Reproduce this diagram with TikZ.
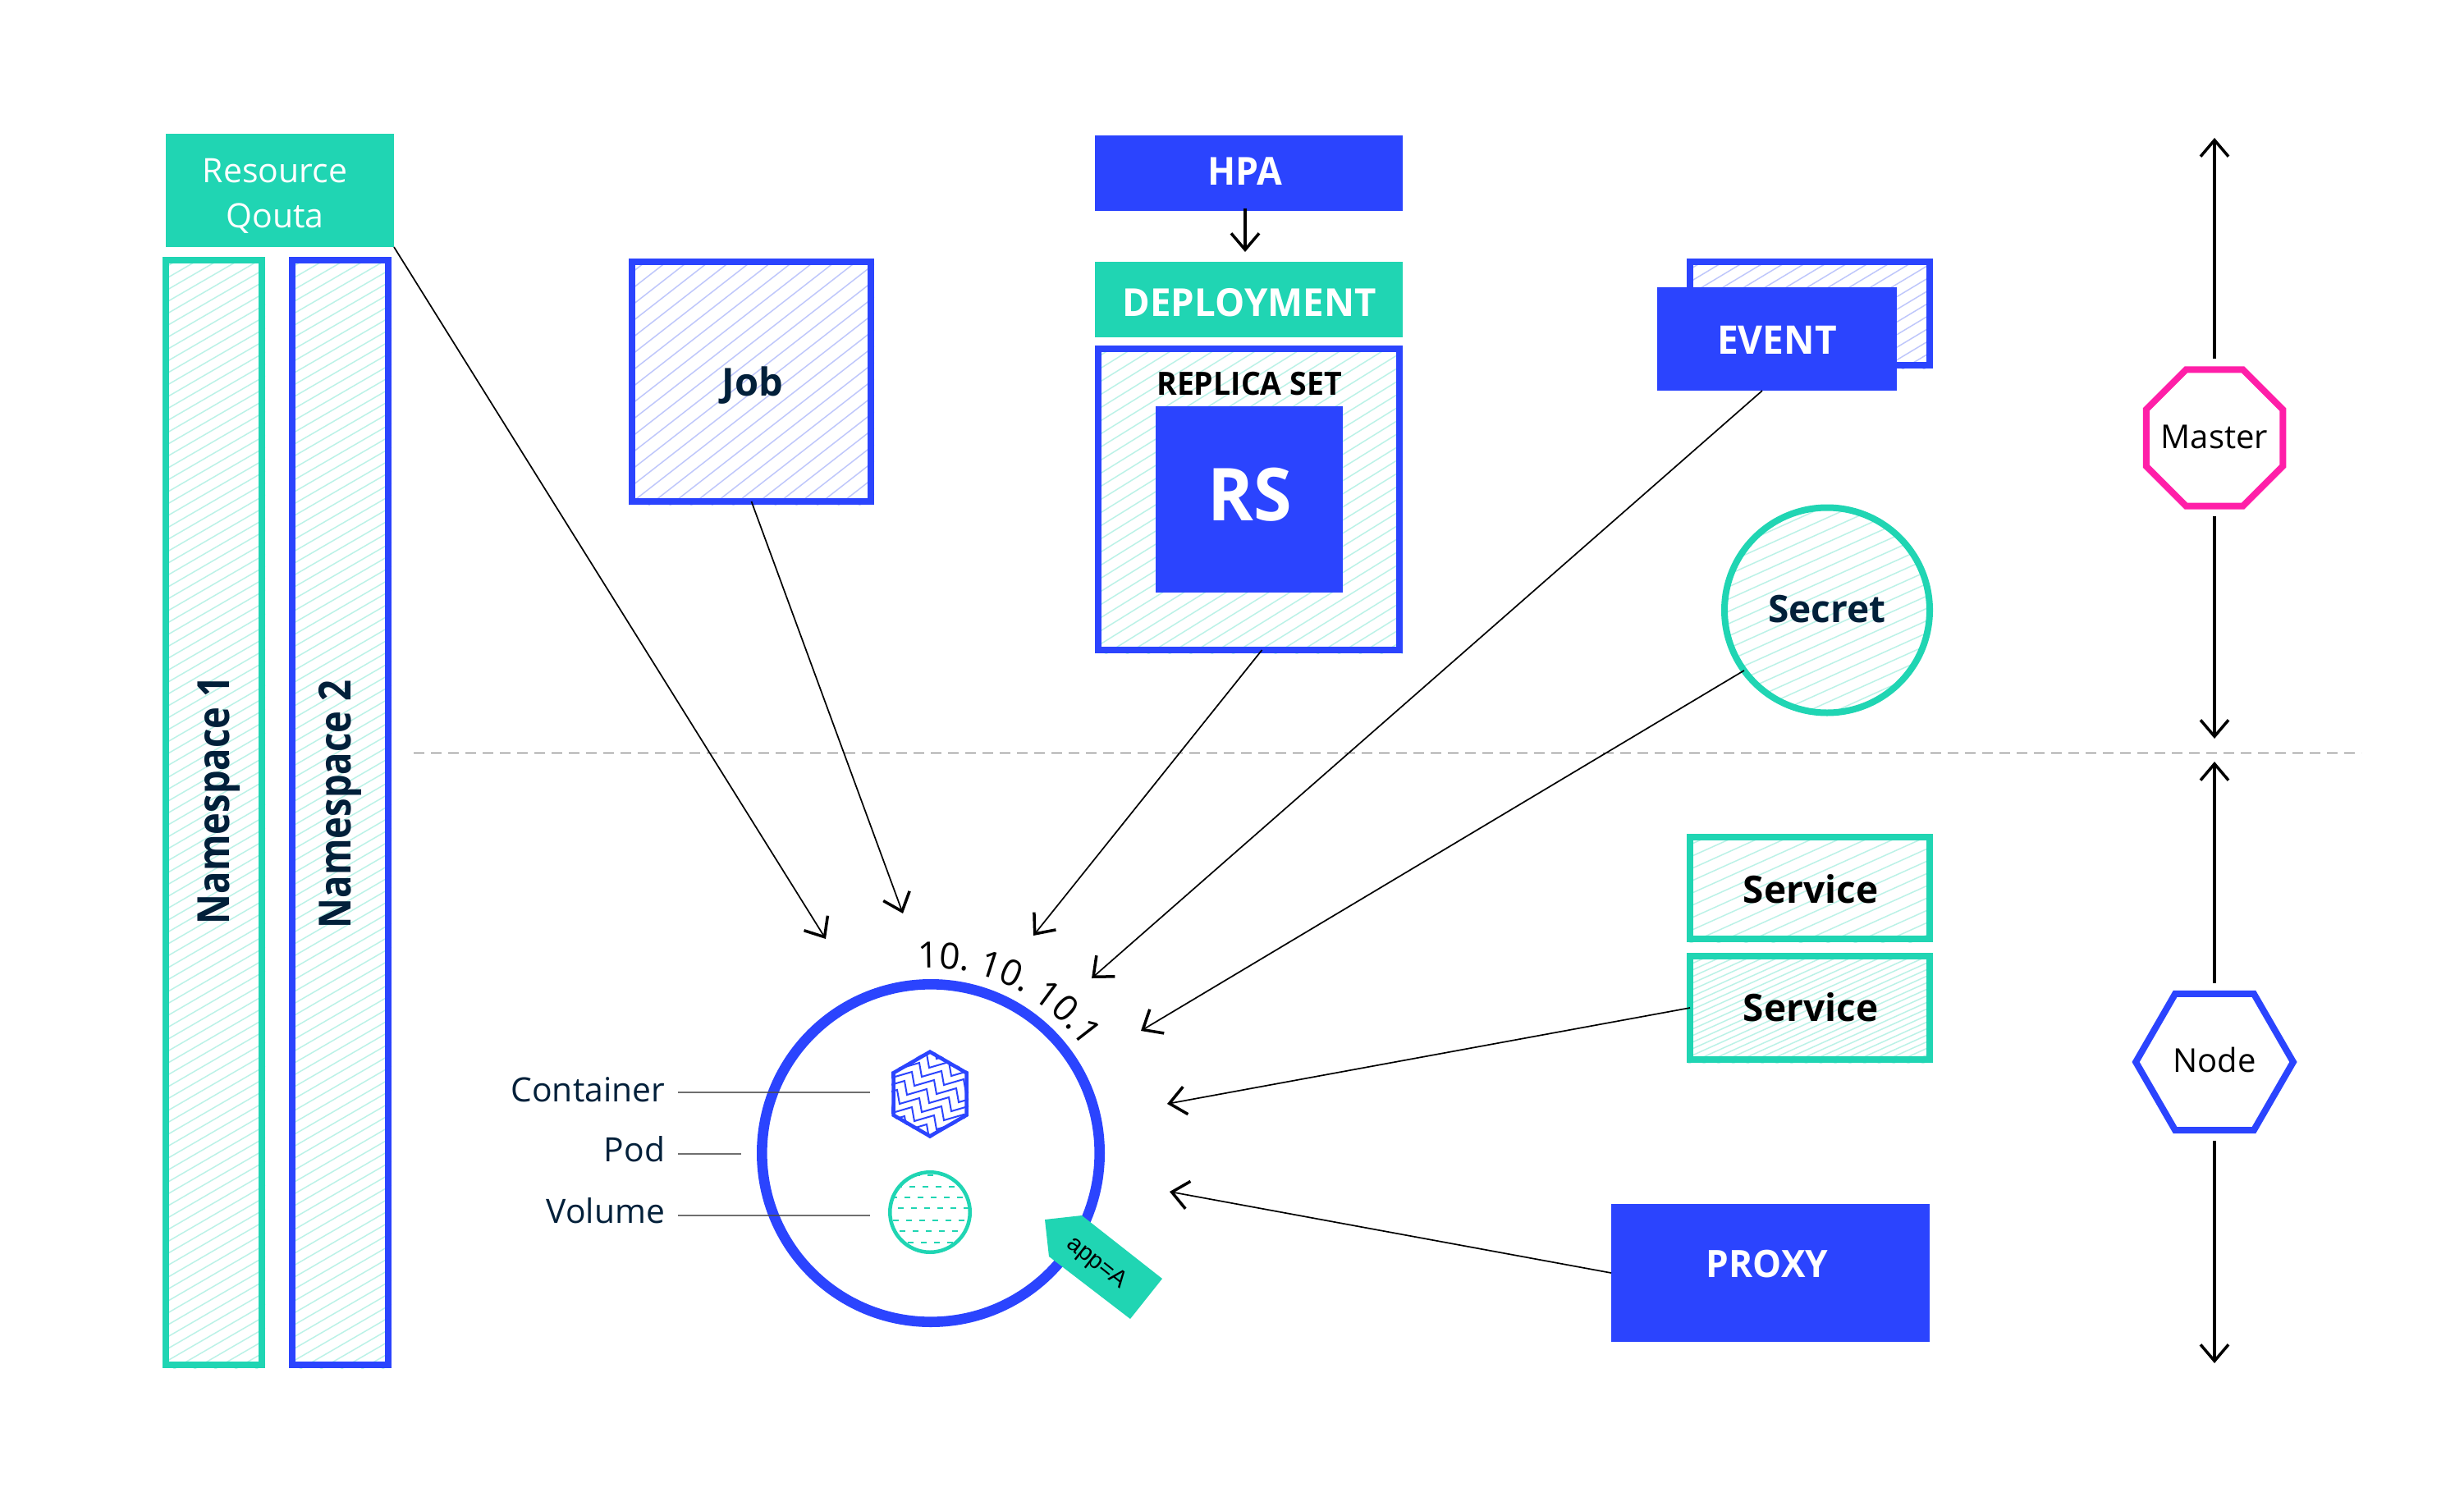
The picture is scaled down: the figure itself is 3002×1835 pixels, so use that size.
\documentclass[tikz,border=0pt]{standalone}
\usepackage{fontspec}
\usepackage{graphicx}
\usetikzlibrary{arrows.meta,shapes.geometric,decorations.text}
\setmainfont{Open Sans}
\newfontfamily\semi{Open Sans}[UprightFont={* Semibold},BoldFont={* Bold}]
\newfontfamily\liber{Liberation Sans}
\definecolor{teal}{HTML}{20D5B3}
\definecolor{kblue}{HTML}{2B44FE}
\definecolor{pinkk}{HTML}{FF1FA8}
\definecolor{navy}{HTML}{02203A}
\definecolor{lteal}{HTML}{BBF2E7}
\definecolor{lblue}{HTML}{BFC7FB}
\newcommand\fs[1]{\fontsize{#1}{#1}\selectfont}
\newcommand\sx[2]{\scalebox{#1}[1]{#2}}
% filled box: style, name, x0,y0,x1,y1
\newcommand\fbx[6]{\node[fbox,#1,minimum width={(#5-#3)*0.5pt},minimum height={(#6-#4)*0.5pt}] (#2) at ({(#3+#5)/2},{(#4+#6)/2}) {};}
% outlined box: outer edges given
\newcommand\obx[6]{\node[obox,#1,minimum width={(#5-#3)*0.5pt-4pt},minimum height={(#6-#4)*0.5pt-4pt}] (#2) at ({(#3+#5)/2},{(#4+#6)/2}) {};}
% hatching: clip path, x0,y0,x1,y1, colour, slope, spacing
\newcommand\hatchfill[8]{%
  \begin{scope}
    \clip #1;
    \pgfmathtruncatemacro\hn{((#5-#3)+#7*(#4-#2))/#8+1}
    \foreach \k in {0,...,\hn}{
      \draw[#6,line width=0.75pt] (#2,{#3+\k*#8}) -- (#4,{#3+\k*#8-#7*(#4-#2)});
    }
  \end{scope}}
\tikzset{
  x=0.5pt,y=-0.5pt,
  fbox/.style={rectangle,inner sep=0pt,outer sep=0pt},
  obox/.style={rectangle,draw,line width=4pt,inner sep=0pt,outer sep=0pt},
  lab/.style={anchor=base,inner sep=0pt,outer sep=0pt},
  link/.style={line width=0.85pt,-{Straight Barb[length=10pt,width=17pt,line width=1.75pt]}},
  axis/.style={line width=2pt,-{Straight Barb[length=10pt,width=17pt,line width=1.75pt]}},
  leader/.style={line width=1pt,black!70,opacity=0.8},
  poly/.style={regular polygon,draw,line width=4pt,inner sep=0pt,outer sep=0pt}
}
\begin{document}
\begin{tikzpicture}
\useasboundingbox (0,0) rectangle (3002,1835);
\fill[white] (0,0) rectangle (3002,1835);

% resource quota and namespaces
\fbx{fill=teal}{rq}{202}{163}{480}{301}
\node[lab,text=white,font=\fs{20.5}] (rqa) at (335,223) {Resource};
\node[lab,text=white,font=\fs{20.5}] (rqb) at (335,278) {Qouta};
\hatchfill{(198,313) rectangle (323,1667)}{198}{313}{323}{1667}{lteal}{0.58}{14.5}
\obx{draw=teal}{nsa}{198}{313}{323}{1667}
\node[lab,rotate=90,text=navy,font=\semi\bfseries\fs{27}] (nsal) at (279,975) {\sx{0.84}{Namespace 1}};
\hatchfill{(352,313) rectangle (477,1667)}{352}{313}{477}{1667}{lteal}{0.58}{14.5}
\obx{draw=kblue}{nsb}{352}{313}{477}{1667}
\node[lab,rotate=90,text=navy,font=\semi\bfseries\fs{27}] (nsbl) at (427,980) {\sx{0.84}{Namespace 2}};

% job
\hatchfill{(766,315) rectangle (1065,615)}{766}{315}{1065}{615}{lblue}{0.78}{20}
\obx{draw=kblue}{job}{766}{315}{1065}{615}
\node[lab,text=navy,font=\semi\bfseries\fs{23.5}] (jobl) at (917,482) {Job};

% hpa, deployment, replica set
\fbx{fill=kblue}{hpa}{1334}{165}{1709}{257}
\node[lab,text=white,font=\semi\bfseries\fs{23.5}] (hpal) at (1517,226) {\sx{0.95}{HPA}};
\fbx{fill=teal}{deploy}{1334}{319}{1709}{411}
\node[lab,text=white,font=\semi\bfseries\fs{23.5}] (deployl) at (1522,385) {\sx{0.97}{DEPLOYMENT}};
\hatchfill{(1334,421) rectangle (1709,796)}{1334}{421}{1709}{796}{lteal}{0.62}{16}
\obx{draw=kblue}{replica}{1334}{421}{1709}{796}
\node[lab,text=black,font=\semi\bfseries\fs{19.5}] (replical) at (1522,481) {\sx{0.96}{REPLICA SET}};
\fbx{fill=kblue}{rs}{1408}{495}{1636}{722}
\node[lab,text=white,font=\semi\bfseries\fs{44.5}] (rsl) at (1523,634) {\sx{0.95}{RS}};

% event
\hatchfill{(2055,315) rectangle (2355,449)}{2055}{315}{2355}{449}{lblue}{0.6}{15.4}
\obx{draw=kblue}{eventb}{2055}{315}{2355}{449}
\fbx{fill=kblue}{event}{2019}{350}{2311}{476}
\node[lab,text=white,font=\semi\bfseries\fs{24}] (eventl) at (2165,431) {\sx{0.96}{EVENT}};

% secret
\hatchfill{(2226,743.5) circle (62.5pt)}{2097}{614}{2355}{873}{lteal}{0.45}{15}
\node[circle,draw=teal,line width=4pt,minimum size=125pt,inner sep=0pt,outer sep=0pt] (secret) at (2226,743.5) {};
\node[lab,text=navy,font=\semi\bfseries\fs{23}] (secretl) at (2226,758) {Secret};

% services, proxy
\hatchfill{(2055,1016) rectangle (2355,1148)}{2055}{1016}{2355}{1148}{lteal}{0.45}{15}
\obx{draw=teal}{svca}{2055}{1016}{2355}{1148}
\node[lab,text=black,font=\semi\bfseries\fs{23}] (svcal) at (2206,1100) {Service};
\hatchfill{(2055,1161) rectangle (2355,1295)}{2055}{1161}{2355}{1295}{lteal}{0.45}{8}
\obx{draw=teal}{svcb}{2055}{1161}{2355}{1295}
\node[lab,text=black,font=\semi\bfseries\fs{23}] (svcbl) at (2206,1244) {Service};
\fbx{fill=kblue}{proxy}{1963}{1467}{2351}{1635}
\node[lab,text=white,font=\semi\bfseries\fs{23}] (proxyl) at (2153,1556) {\sx{0.96}{PROXY}};

% divider
\coordinate (dl) at (504,917);
\coordinate (dr) at (2877,917);
\draw[line width=0.5pt,black!60,dash pattern=on 6.5pt off 4pt] (dl) -- (dr);

% pod
\node[circle,draw=kblue,line width=6.3pt,minimum size=205.7pt,inner sep=0pt,outer sep=0pt] (pod) at (1134,1405) {};
% ip address
\path[decorate,decoration={text along path,text={|\fs{22}|10. 10. 10.1}}] (1118,1180) arc[start angle=94,end angle=15,radius=113pt];
% container
\begin{scope}
  \clip (1133,1279) -- (1180,1306) -- (1180,1360) -- (1133,1387) -- (1086,1360) -- (1086,1306) -- cycle;
  \foreach \k in {-3,...,11}{
    \draw[kblue,line width=1pt,line join=miter] ({1060-9*\k},{1260+11*\k})
      -- ++(24,-7) -- ++(3,17) -- ++(24,-7) -- ++(3,17) -- ++(24,-7) -- ++(3,17)
      -- ++(24,-7) -- ++(3,17) -- ++(24,-7) -- ++(3,17) -- ++(24,-7) -- ++(3,17);
  }
\end{scope}
\node[poly,draw=kblue,line width=2.25pt,regular polygon sides=6,shape border rotate=30,minimum size=51.4pt] (hexc) at (1133,1333) {};
% volume
\begin{scope}
  \clip (1133,1477) circle (24pt);
  \foreach \yy/\ph in {1432/0,1446/3,1459/6,1472/2,1487/5,1500/1,1514/4}{
    \draw[teal,line width=1.1pt,dash pattern=on 3.5pt off 4.5pt,dash phase=\ph pt] (1082,\yy) -- (1184,\yy);
  }
\end{scope}
\node[circle,draw=teal,line width=2.25pt,minimum size=48.75pt,inner sep=0pt,outer sep=0pt] (vol) at (1133,1477) {};
% tag
\fill[teal] (1273,1486) -- (1318,1481) -- (1416,1558) -- (1377,1607) -- (1278,1531) -- cycle;
\node[anchor=center,inner sep=0pt,rotate=-38.4,text=black,font=\liber\fs{14.5}] (tagl) at (1336,1539) {app=A};

% pod labels
\node[lab,anchor=base east,text=navy,font=\fs{20.4}] (conl) at (810,1342) {Container};
\node[lab,anchor=base east,text=navy,font=\fs{20.4}] (podl) at (810,1415) {Pod};
\node[lab,anchor=base east,text=navy,font=\fs{20.4}] (voll) at (810,1490) {Volume};
\draw[leader] ([xshift=8pt,yshift=5.5pt]conl.base east) -- +(234,0);
\draw[leader] ([xshift=8pt,yshift=4.5pt]podl.base east) -- +(77,0);
\draw[leader] ([xshift=8pt,yshift=4.5pt]voll.base east) -- +(234,0);

% connectors
\coordinate (t1) at (1006,1144);
\coordinate (t2) at (1100,1113);
\coordinate (t3) at (1259,1140);
\coordinate (t4) at (1330,1192);
\coordinate (t5) at (1390,1256);
\coordinate (t6) at (1422,1345);
\coordinate (t7) at (1425,1452);
\draw[link] (rq.south east) -- (t1);
\draw[link] (job.south) -- (t2);
\draw[link] ([xshift=8pt]replica.south) -- (t3);
\draw[link] ([xshift=-9pt]event.south) -- (t4);
\draw[link] (secret.216) -- (t5);
\draw[link] (svcb.west) -- (t6);
\draw[link] (proxy.west) -- (t7);
\draw[axis] ([xshift=-2.25pt,yshift=1.5pt]hpa.south) -- ([xshift=-2.25pt,yshift=6pt]deploy.north);

% master and node
\node[poly,draw=pinkk,regular polygon sides=8,minimum size=90.1pt] (master) at (2698,533.5) {};
\node[lab,text=black,font=\fs{20}] (masterl) at (2698,546) {Master};
\node[poly,draw=kblue,regular polygon sides=6,minimum size=95.9pt] (nodeh) at (2698,1294) {};
\node[lab,text=black,font=\fs{20}] (nodel) at (2698,1306) {Node};
\coordinate (a1) at (2698,168);
\coordinate (a2) at (2698,900);
\coordinate (a3) at (2698,928);
\coordinate (a4) at (2698,1661);
\draw[axis] ([yshift=6.5pt]master.north) -- (a1);
\draw[axis] ([yshift=-6pt]master.south) -- (a2);
\draw[axis] ([yshift=6.5pt]nodeh.north) -- (a3);
\draw[axis] ([yshift=-6.5pt]nodeh.south) -- (a4);
\end{tikzpicture}
\end{document}
